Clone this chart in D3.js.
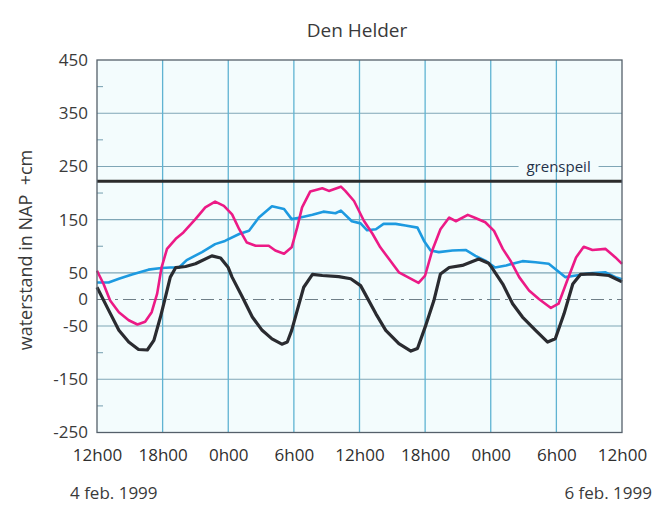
<!DOCTYPE html>
<html>
<head>
<meta charset="utf-8">
<script src="https://cdn.jsdelivr.net/npm/d3@7"></script>
<style>
  body { margin: 0; background: #fff; }
  text { font-family: "Open Sans", sans-serif; fill: #3a3a3a; }
</style>
</head>
<body>
<div class="chart"></div>
<script>
// chart data (hours since 4 feb. 1999 12h00, waterstand in cm NAP)
var tickLabels = ["12h00", "18h00", "0h00", "6h00", "12h00", "18h00", "0h00", "6h00", "12h00"];
var yTickLabels = [450, 350, 250, 150, 50, 0, -50, -150, -250];
var grenspeil = 222;

var blackHours = [0, 1.06, 2, 2.9, 3.8, 4.6, 5.2, 5.8, 6.25, 6.7, 7.2, 8.1, 9, 10.5, 11.3, 12, 12.35, 13.3, 14.2, 15.1, 16, 16.9, 17.4, 17.8, 18.3, 18.9, 19.7, 20.6, 22.1, 23.2, 24.1, 24.5, 25.5, 26.4, 27.6, 28.7, 29.3, 30, 30.8, 31.4, 32.2, 33.4, 34.9, 35.8, 36.1, 37.1, 38, 38.9, 40.1, 41.2, 41.9, 42.7, 43.5, 44.2, 45.3, 46.8, 48];
var blackValues = [23, -20, -58, -80, -94, -95, -77, -33, 4, 42, 60, 62, 67, 82, 78, 60, 42, 4, -33, -58, -74, -84, -80, -58, -21, 23, 47, 45, 43, 39, 26, 11, -27, -58, -83, -97, -92, -52, -2, 48, 60, 64, 76, 68, 60, 29, -8, -33, -58, -80, -74, -27, 29, 47, 48, 45, 33];

var pinkHours = [0, 0.6, 1.2, 2, 2.9, 3.7, 4.4, 5, 5.5, 5.9, 6.4, 7.2, 7.9, 9, 9.9, 10.8, 11.6, 12.35, 13, 13.7, 14.5, 15.7, 16.3, 17.1, 17.8, 18.3, 18.75, 19.5, 20.6, 21.2, 22.3, 22.7, 23.5, 24.4, 25.2, 25.9, 26.7, 27.6, 28.5, 29.4, 30, 30.65, 31.4, 32.2, 32.8, 33.9, 34.6, 35.5, 36.3, 37.1, 37.8, 38.6, 39.5, 40.4, 41.5, 42.2, 43, 43.8, 44.5, 45.3, 46.5, 47.4, 48];
var pinkValues = [54, 29, -2, -24, -39, -47, -42, -24, 11, 60, 95, 114, 126, 151, 173, 184, 176, 160, 132, 107, 101, 101, 92, 86, 98, 135, 173, 203, 209, 204, 212, 204, 185, 148, 123, 98, 76, 51, 41, 31, 45, 92, 132, 154, 147, 159, 153, 145, 129, 95, 73, 42, 17, 1, -16, -8, 36, 79, 99, 93, 95, 79, 67];

var blueHours = [0, 1.06, 2, 3.2, 4.7, 5.9, 6.7, 7.5, 8.2, 9.6, 10.8, 11.7, 13, 13.9, 14.8, 16, 17.1, 17.8, 18.6, 19.7, 20.7, 21.8, 22.3, 23.3, 24.1, 24.7, 25.5, 26.2, 27.3, 28.2, 29.3, 29.9, 30.5, 31.25, 32.5, 33.7, 34.6, 35.5, 36.4, 37.4, 38.9, 40.1, 41.3, 42.1, 42.8, 43.8, 45, 46.5, 47.4, 48];
var blueValues = [32, 32, 39, 47, 56, 59, 60, 60, 74, 89, 104, 110, 123, 129, 154, 175, 170, 151, 154, 159, 165, 162, 167, 147, 143, 130, 132, 142, 142, 139, 135, 110, 92, 89, 92, 93, 82, 73, 60, 64, 72, 70, 67, 54, 42, 45, 49, 51, 42, 38];

var svgWidth = 669;
var svgHeight = 505;

var margin = { top: 60, right: 47, bottom: 72, left: 97 };
var width = 525;
var height = 372.5;

var svg = d3.select(".chart")
  .append("svg")
  .attr("width", svgWidth)
  .attr("height", svgHeight);

var chartGroup = svg.append("g")
  .attr("transform", `translate(${margin.left}, ${margin.top})`);

var xScale = d3.scaleLinear().domain([0, 48]).range([0, width]);
var yScale = d3.scaleLinear().domain([-250, 450]).range([height, 0]);

// plot background
chartGroup.append("rect")
  .attr("width", width)
  .attr("height", height)
  .attr("fill", "#f3fcfd");

// horizontal grid
chartGroup.selectAll(".hgrid")
  .data([350, 250, 150, 50, -50, -150])
  .enter()
  .append("line")
  .attr("x1", 0)
  .attr("x2", width)
  .attr("y1", d => yScale(d))
  .attr("y2", d => yScale(d))
  .attr("stroke", "#7fa6b6")
  .attr("stroke-width", 1.1);

// minor ticks on the left edge
chartGroup.selectAll(".minor")
  .data([400, 300, 200, 100, -100, -200])
  .enter()
  .append("line")
  .attr("x1", 0)
  .attr("x2", 6)
  .attr("y1", d => yScale(d))
  .attr("y2", d => yScale(d))
  .attr("stroke", "#7fa6b6")
  .attr("stroke-width", 1.1);

// vertical grid
chartGroup.selectAll(".vgrid")
  .data(d3.range(6, 48, 6))
  .enter()
  .append("line")
  .attr("x1", d => xScale(d))
  .attr("x2", d => xScale(d))
  .attr("y1", 0)
  .attr("y2", height)
  .attr("stroke", "#5fb3d2")
  .attr("stroke-width", 1.3);

// zero line, dash-dot
chartGroup.append("line")
  .attr("x1", 0)
  .attr("x2", width)
  .attr("y1", yScale(0))
  .attr("y2", yScale(0))
  .attr("stroke", "#6f7f88")
  .attr("stroke-width", 1.1)
  .attr("stroke-dasharray", "13,5,3,5");

// grenspeil label (breaks the 250 gridline)
var gx = xScale(42.2);
chartGroup.append("rect")
  .attr("x", gx - 40)
  .attr("y", yScale(250) - 2)
  .attr("width", 80)
  .attr("height", 4)
  .attr("fill", "#f3fcfd");
chartGroup.append("text")
  .attr("x", gx)
  .attr("y", yScale(grenspeil) - 9)
  .attr("text-anchor", "middle")
  .attr("font-size", "15px")
  .style("fill", "#24324a")
  .text("grenspeil");

// grenspeil line
chartGroup.append("line")
  .attr("x1", 0)
  .attr("x2", width)
  .attr("y1", yScale(grenspeil))
  .attr("y2", yScale(grenspeil))
  .attr("stroke", "#2b2b2b")
  .attr("stroke-width", 3);

// series
var line = d3.line()
  .x(d => xScale(d[0]))
  .y(d => yScale(d[1]));

var series = [
  { hours: blueHours, values: blueValues, color: "#1d9ae0", w: 2.6 },
  { hours: pinkHours, values: pinkValues, color: "#ec1a86", w: 2.6 },
  { hours: blackHours, values: blackValues, color: "#2a2b30", w: 3.2 }
];

series.forEach(function(s) {
  chartGroup.append("path")
    .datum(d3.zip(s.hours, s.values))
    .attr("d", line)
    .attr("fill", "none")
    .attr("stroke", s.color)
    .attr("stroke-width", s.w)
    .attr("stroke-linejoin", "round");
});

// frame
chartGroup.append("rect")
  .attr("width", width)
  .attr("height", height)
  .attr("fill", "none")
  .attr("stroke", "#55606a")
  .attr("stroke-width", 1.3);

// y axis labels (plain hyphen for negatives)
var leftAxis = d3.axisLeft(yScale)
  .tickValues(yTickLabels)
  .tickFormat(d => String(d))
  .tickSize(0)
  .tickPadding(9);

chartGroup.append("g")
  .call(leftAxis)
  .call(g => g.select(".domain").remove())
  .selectAll("text")
  .attr("font-size", "17px")
  .style("font-family", "'Open Sans', sans-serif")
  .style("fill", "#3a3a3a");

// x axis labels
var bottomAxis = d3.axisBottom(xScale)
  .tickValues(d3.range(0, 49, 6))
  .tickFormat((d, i) => tickLabels[i])
  .tickSize(0)
  .tickPadding(16);

chartGroup.append("g")
  .attr("transform", `translate(0, ${height})`)
  .call(bottomAxis)
  .call(g => g.select(".domain").remove())
  .selectAll("text")
  .attr("font-size", "17px")
  .style("font-family", "'Open Sans', sans-serif")
  .style("fill", "#2f2f2f");

// dates
svg.append("text")
  .attr("x", 70)
  .attr("y", 499)
  .attr("font-size", "17px")
  .text("4 feb. 1999");

svg.append("text")
  .attr("x", 652)
  .attr("y", 499)
  .attr("text-anchor", "end")
  .attr("font-size", "17px")
  .text("6 feb. 1999");

// title
svg.append("text")
  .attr("x", 357)
  .attr("y", 37)
  .attr("text-anchor", "middle")
  .attr("font-size", "19px")
  .text("Den Helder");

// y axis title
svg.append("text")
  .attr("transform", "rotate(-90)")
  .attr("x", -250)
  .attr("y", 32)
  .attr("text-anchor", "middle")
  .attr("font-size", "18px")
  .style("white-space", "pre")
  .text("waterstand in NAP  +cm");
</script>
</body>
</html>
